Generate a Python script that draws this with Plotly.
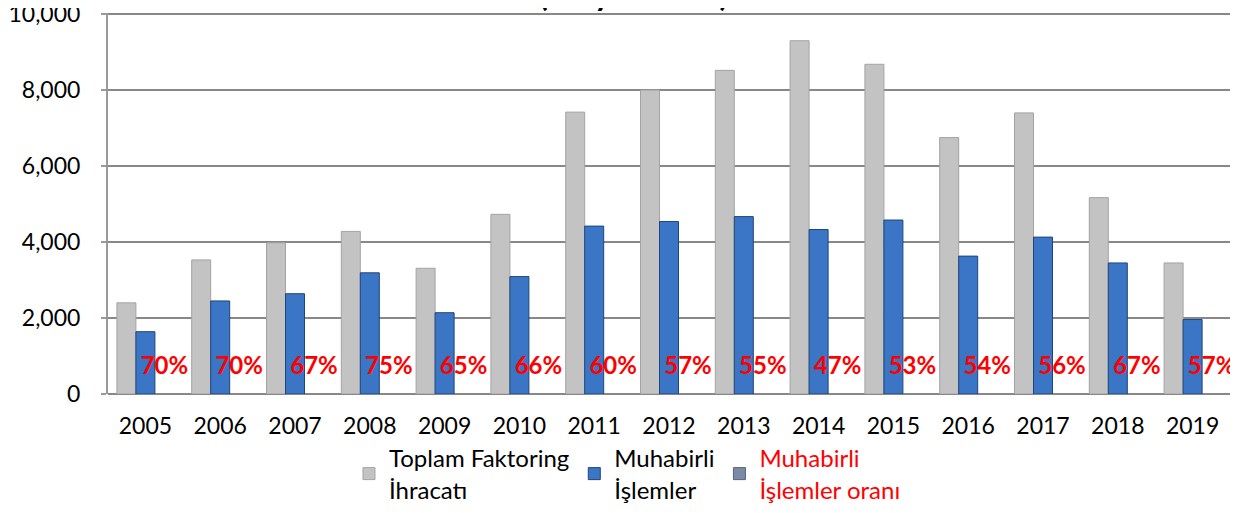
import plotly.graph_objects as go

years = ['2005', '2006', '2007', '2008', '2009', '2010', '2011', '2012',
         '2013', '2014', '2015', '2016', '2017', '2018', '2019']
toplam = [2400, 3530, 3980, 4280, 3310, 4730, 7420, 8000, 8520, 9300, 8680, 6750, 7400, 5170, 3450]
muhabirli = [1640, 2450, 2640, 3190, 2140, 3090, 4420, 4540, 4670, 4330, 4580, 3630, 4130, 3450, 1960]
oran = [70, 70, 67, 75, 65, 66, 60, 57, 55, 47, 53, 54, 56, 67, 57]

FONT = "Lato"
LABEL_BAND = 1560  # height of invisible band whose middle holds the ratio labels

fig = go.Figure()
fig.add_trace(go.Bar(
    x=years, y=toplam, name="Toplam Faktoring<br>İhracatı", offsetgroup="1",
    marker=dict(color="#c3c3c3", line=dict(color="#a3a3a3", width=1)),
))
fig.add_trace(go.Bar(
    x=years, y=muhabirli, name="Muhabirli<br>İşlemler", offsetgroup="2",
    marker=dict(color="#3b76c6", line=dict(color="#1f4477", width=1)),
))
# ratio labels (invisible bars in the third slot)
fig.add_trace(go.Bar(
    x=years, y=[LABEL_BAND] * len(years), offsetgroup="3", showlegend=False,
    marker=dict(color="rgba(255,255,255,0)", line=dict(width=0)),
    text=[f"{v}%" for v in oran], textposition="inside", insidetextanchor="middle",
    textangle=0, constraintext="none",
    textfont=dict(family=FONT, size=24, color="#ff0000", weight="bold"),
    hoverinfo="skip",
))
# legend entry for the ratio series
fig.add_trace(go.Bar(
    x=years, y=[None] * len(years), offsetgroup="3",
    name='<span style="color:#ff0000">Muhabirli</span><br><span style="color:#ff0000">İşlemler oranı</span>',
    marker=dict(color="#7d8aa3", line=dict(color="#56627a", width=1)),
))

fig.add_annotation(
    text="<b>(Milyon USD)</b>", xref="paper", yref="paper", x=0.468, y=0.994,
    xanchor="center", yanchor="bottom", showarrow=False,
    font=dict(family=FONT, size=32, color="#000000"),
)

fig.update_layout(
    width=1245, height=505,
    margin=dict(l=100, r=23, t=5, b=119, autoexpand=False),
    paper_bgcolor="white", plot_bgcolor="white",
    barmode="group", bargap=0.238, bargroupgap=0,
    font=dict(family=FONT, size=23, color="#000000"),
    showlegend=True,
    legend=dict(orientation="h", x=0.463, xanchor="center", y=-0.11, yanchor="top",
                font=dict(family=FONT, size=24, color="#000000"),
                traceorder="normal", itemwidth=30, tracegroupgap=0,
                bgcolor="rgba(0,0,0,0)"),
    xaxis=dict(type="category", showgrid=False, showline=False, ticks="",
               ticklabelstandoff=16,
               tickfont=dict(family=FONT, size=23, color="#000000")),
    yaxis=dict(range=[0, 10030], tickvals=[0, 2000, 4000, 6000, 8000, 10000],
               tickformat=",", ticklabeloverflow="allow",
               showgrid=True, gridcolor="#888888", gridwidth=2,
               showline=True, linecolor="#999999", linewidth=2,
               ticks="outside", ticklen=5, tickcolor="#999999", tickwidth=2,
               ticklabelstandoff=16,
               zeroline=True, zerolinecolor="#888888", zerolinewidth=2,
               tickfont=dict(family=FONT, size=23, color="#000000")),
)

fig.write_html("out.html")
